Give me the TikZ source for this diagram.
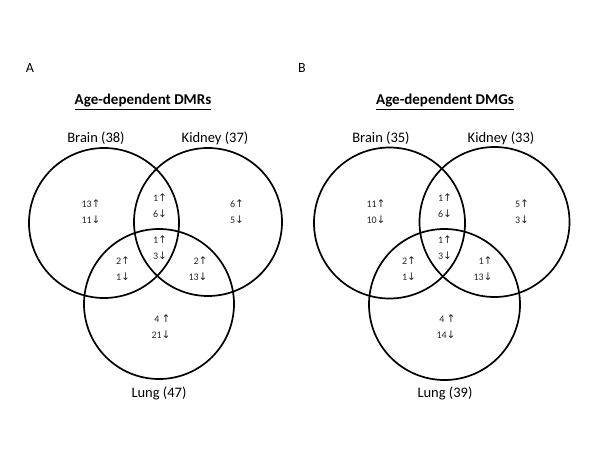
\documentclass[tikz,border=0pt]{standalone}
\usepackage{fontspec}
\setmainfont{Carlito}
\newfontfamily\arrowfont{DejaVu Sans}
\newcommand{\up}{{\arrowfont\fontsize{10.5}{10}\selectfont ↑}}
\newcommand{\dn}{{\arrowfont\fontsize{10.5}{10}\selectfont ↓}}
\begin{document}
\begin{tikzpicture}[x=1pt,y=-1pt,
  venn/.style={draw=black,line width=1.7pt},
  cnt/.style={align=right,font=\fontsize{10}{16}\selectfont,text=black!85,inner sep=0pt},
  setlbl/.style={font=\fontsize{14.5}{16}\selectfont,inner sep=0pt},
  ttl/.style={font=\bfseries\fontsize{15}{17}\selectfont,inner sep=0pt},
  panel/.style={font=\fontsize{14}{16}\selectfont,inner sep=0pt}]
\useasboundingbox (0,0) rectangle (600,450);
% Panel A
\node[panel] (pA) at (30,68) {A};
\node[ttl] (tA) at (143,102) {\underline{Age-dependent DMRs}};
\draw[venn] (104,223) circle (75);
\draw[venn] (208,222) circle (74);
\draw[venn] (159,304) circle (75);
\node[setlbl] (bA) at (96,138) {Brain (38)};
\node[setlbl] (kA) at (215,138) {Kidney (37)};
\node[setlbl] (lA) at (159,393) {Lung (47)};
\node[cnt] (a1) at (91,212) {13\up\\11\dn};
\node[cnt] (a2) at (160,206) {1\up\\6\dn};
\node[cnt] (a3) at (237,212) {6\up\\5\dn};
\node[cnt] (a4) at (160,248) {1\up\\3\dn};
\node[cnt] (a5) at (123,269) {2\up\\1\dn};
\node[cnt] (a6) at (198,269) {2\up\\13\dn};
\node[cnt] (a7) at (161,327) {4 \up\\21\dn};
% Panel B
\node[panel] (pB) at (302,68) {B};
\node[ttl] (tB) at (445,102) {\underline{Age-dependent DMGs}};
\draw[venn] (389.5,223) circle (75.5);
\draw[venn] (494.5,222) circle (75);
\draw[venn] (444.5,304.5) circle (75.5);
\node[setlbl] (bB) at (381,138) {Brain (35)};
\node[setlbl] (kB) at (501,138) {Kidney (33)};
\node[setlbl] (lB) at (445,393) {Lung (39)};
\node[cnt] (b1) at (376,212) {11\up\\10\dn};
\node[cnt] (b2) at (445,206) {1\up\\6\dn};
\node[cnt] (b3) at (522,212) {5\up\\3\dn};
\node[cnt] (b4) at (445,248) {1\up\\3\dn};
\node[cnt] (b5) at (409,269) {2\up\\1\dn};
\node[cnt] (b6) at (483,269) {1\up\\13\dn};
\node[cnt] (b7) at (446,327) {4 \up\\14\dn};
\end{tikzpicture}
\end{document}
